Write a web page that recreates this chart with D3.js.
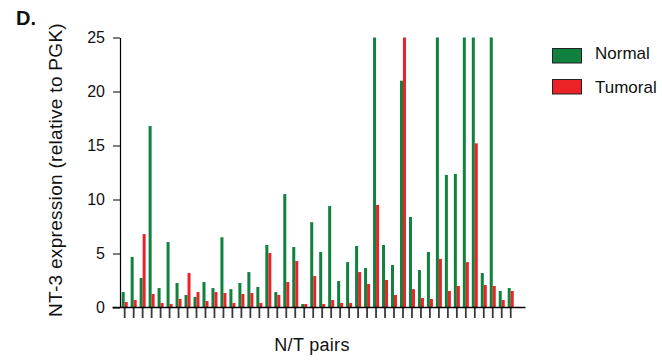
<!DOCTYPE html>
<html>
<head>
<meta charset="utf-8">
<script src="https://cdn.jsdelivr.net/npm/d3@7"></script>
<style>
  html, body { margin: 0; padding: 0; background: #fff; }
  svg { display: block; font-family: "Liberation Sans", Arial, Helvetica, sans-serif; }
</style>
</head>
<body>
<svg id="chart" width="662" height="360"></svg>
<script>
// NT-3 expression per N/T pair (relative to PGK); axis capped at 25
const pairs = d3.range(1, 45);
const normal = [1.43, 4.68, 2.73, 16.8, 1.8, 6.06, 2.27, 1.16, 0.98, 2.36,
                1.8, 6.5, 1.7, 2.27, 3.28, 1.9, 5.79, 1.43, 10.5, 5.6,
                0.32, 7.9, 5.14, 9.4, 2.45, 4.2, 5.7, 3.66, 25, 5.79,
                3.94, 21.0, 8.38, 3.47, 5.14, 25, 12.27, 12.36, 25, 25,
                3.19, 25, 1.53, 1.8];
const tumoral = [0.51, 0.69, 6.8, 1.25, 0.42, 0.32, 0.79, 3.19, 1.43, 0.6,
                 1.43, 1.34, 0.42, 1.25, 1.34, 0.42, 5.05, 1.16, 2.36, 4.3,
                 0.32, 2.91, 0.32, 0.69, 0.42, 0.42, 3.28, 2.18, 9.5, 2.55,
                 1.16, 25, 1.7, 0.88, 0.79, 4.5, 1.53, 1.99, 4.2, 15.2,
                 2.08, 1.99, 0.69, 1.53];
const seriesNames = ["Normal", "Tumoral"];
const yTicks = [0, 5, 10, 15, 20, 25];
const colors = { Normal: "#11813f", Tumoral: "#ec2227" };

const svg = d3.select("#chart");

const x = d3.scaleBand().domain(pairs).range([120.2, 515.2]).padding(0);
const inner = d3.scaleBand().domain(seriesNames).range([-3, 3]).padding(0);
const y = d3.scaleLinear().domain([0, 25]).range([307.5, 37.5]).clamp(true);

const rows = pairs.map((p, i) => ({ pair: p, Normal: normal[i], Tumoral: tumoral[i] }));

// bars
const g = svg.append("g");
const groups = g.selectAll("g.pair").data(rows).join("g")
  .attr("class", "pair")
  .attr("transform", d => `translate(${x(d.pair) + x.bandwidth() / 2},0)`);
groups.selectAll("rect").data(d => seriesNames.map(s => ({ s, v: d[s] }))).join("rect")
  .attr("x", d => inner(d.s))
  .attr("width", inner.bandwidth())
  .attr("y", d => y(d.v))
  .attr("height", d => y(0) - y(d.v))
  .attr("fill", d => colors[d.s]);

// y axis
const yAxis = svg.append("g")
  .attr("transform", "translate(120,0)")
  .call(d3.axisLeft(y).tickValues(yTicks).tickSize(7).tickSizeOuter(0).tickPadding(8));
yAxis.select(".domain").attr("stroke", "#000").attr("stroke-width", 1.2);
yAxis.selectAll(".tick line").attr("stroke", "#000").attr("stroke-width", 1);
yAxis.selectAll(".tick text").attr("font-size", 16).attr("fill", "#111")
  .attr("font-family", "'Liberation Sans', Arial, sans-serif");

// x axis: tick marks at each pair, baseline drawn across
const xAxis = svg.append("g")
  .attr("transform", "translate(0,308)")
  .call(d3.axisBottom(x).tickSize(10).tickSizeOuter(0).tickFormat(""));
xAxis.select(".domain").remove();
xAxis.selectAll(".tick line").attr("stroke", "#3a3a3a").attr("stroke-width", 1.8);
svg.append("line")
  .attr("x1", 112.5).attr("x2", 525.5)
  .attr("y1", y(0)).attr("y2", y(0))
  .attr("stroke", "#000").attr("stroke-width", 1.6);

// titles
svg.append("text").attr("x", 16).attr("y", 25)
  .attr("font-size", 20).attr("font-weight", "bold").attr("fill", "#111").text("D.");
svg.append("text")
  .attr("transform", "translate(61.5,170) rotate(-90)")
  .attr("text-anchor", "middle").attr("font-size", 19).attr("letter-spacing", 0.3)
  .attr("fill", "#111")
  .text("NT-3 expression (relative to PGK)");
svg.append("text").attr("x", 312).attr("y", 351)
  .attr("text-anchor", "middle").attr("font-size", 18).attr("letter-spacing", 0.3)
  .attr("fill", "#111")
  .text("N/T pairs");

// legend
const legend = svg.append("g");
const legendY = [48.5, 79.5];
const legendTextY = [58.5, 93];
seriesNames.forEach((s, i) => {
  legend.append("rect")
    .attr("x", 552.5).attr("y", legendY[i]).attr("width", 29).attr("height", 14.5)
    .attr("fill", colors[s]).attr("stroke", "#222").attr("stroke-width", 1);
  legend.append("text")
    .attr("x", 595).attr("y", legendTextY[i])
    .attr("font-size", 17).attr("fill", "#111").text(s);
});
</script>
</body>
</html>
